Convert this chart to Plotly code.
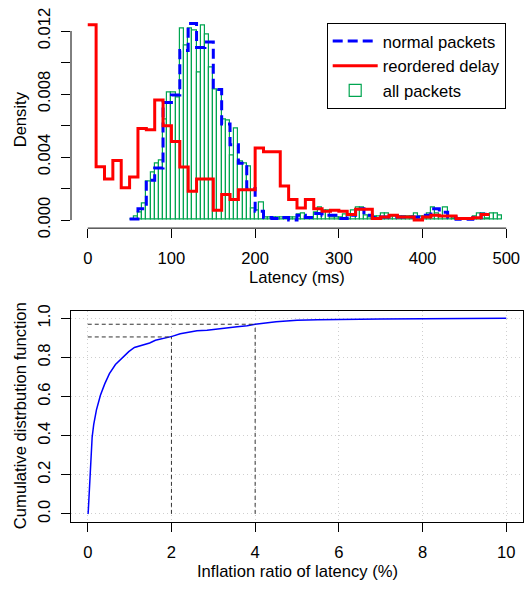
import plotly.graph_objects as go

W, H = 524, 593

# ---------------- Top panel data (density histograms) ----------------
all_start = 50          # first 5 ms bin start (ms)
all_width = 5
all_density = [
    0.0, 0.0002, 0.00045, 0.00107, 0.00247, 0.0030, 0.0036, 0.0038, 0.0064, 0.0081,
    0.0081, 0.0078, 0.01216, 0.0111, 0.01216, 0.01205, 0.00938, 0.01236, 0.01175, 0.0097,
    0.0083, 0.0082, 0.0064, 0.0063, 0.0041, 0.0058, 0.0037, 0.0036, 0.0034, 0.0007,
    0.0006, 0.0011, 0.00017, 0.00017, 0.00017, 0.00017, 0.00017, 0.00017, 0.00017, 0.00017,
    0.00037, 0.00040, 0.00017, 0.00017, 0.00046, 0.00082, 0.00062, 0.00062, 0.00017, 0.00017,
    0.00017, 0.00037, 0.00030, 0.00062, 0.00080, 0.00082, 0.00030, 0.00017, 0.0002, 0.0002,
    0.0004, 0.0004, 0.0002, 0.0002, 0.0002, 0.0002, 0.0002, 0.0002, 0.0004, 0.0002,
    0.0002, 0.0004, 0.00078, 0.0004, 0.0002, 0.0008, 0.0002, 0.0001, 0.0001, 0.0001,
    0.0001, 0.0001, 0.0002, 0.0004, 0.0004, 0.0001, 0.0004, 0.0004, 0.0003,
]

normal_start = 50       # 10 ms bins
normal_width = 10
normal_density = [
    0.00006, 0.00072, 0.00253, 0.0033, 0.00746, 0.00793, 0.01076, 0.01247, 0.01096, 0.0113,
    0.00828, 0.0061, 0.00478, 0.0036, 0.0020, 0.00056, 0.00017, 0.0001, 0.00017, 0.0,
    0.0003, 0.00017, 0.00041, 0.0003, 0.0003, 0.0001, 0.0003, 0.00072, 0.0003, 0.00017,
    0.0002, 0.0002, 0.0002, 0.0002, 0.0002, 0.0003, 0.00072, 0.0005, 0.0002, 0.00005,
    0.00005, 0.00015, 0.00037,
]

reord_start = 0         # 10 ms bins
reord_width = 10
reord_density = [
    0.0124, 0.00338, 0.00260, 0.00378, 0.00205, 0.00273, 0.00581, 0.00573, 0.00762, 0.00598,
    0.00499, 0.00336, 0.00183, 0.00260, 0.00260, 0.00062, 0.00163, 0.00130, 0.00192, 0.00192,
    0.00457, 0.00433, 0.00433, 0.00216, 0.00130, 0.00076, 0.00130, 0.00072, 0.00056, 0.00062,
    0.00056, 0.00035, 0.00068, 0.00068, 0.00010, 0.00020, 0.00030, 0.00020, 0.00020, 0.00000,
    0.00020, 0.00030, 0.00025, 0.00025, 0.00010, 0.00010, 0.00015, 0.00035,
]

top_xticks = [0, 100, 200, 300, 400, 500]
top_yticks = [0.0, 0.002, 0.004, 0.006, 0.008, 0.010, 0.012]
top_yticktext = ["0.000", "", "0.004", "", "0.008", "", "0.012"]

# ---------------- Bottom panel data (CDF) ----------------
cdf_x = [0.0, 0.01, 0.105, 0.143, 0.208, 0.303, 0.406, 0.518, 0.662, 0.821, 0.98, 1.115,
         1.30, 1.48, 1.617, 1.815, 2.015, 2.21, 2.41, 2.61, 2.85, 3.05, 3.25, 3.57, 3.81,
         4.0, 4.5, 5.0, 5.5, 6.0, 7.0, 8.0, 9.0, 10.0]
cdf_y = [0.0, 0.003, 0.392, 0.458, 0.532, 0.607, 0.665, 0.717, 0.764, 0.797, 0.830, 0.851,
         0.863, 0.874, 0.888, 0.896, 0.908, 0.921, 0.929, 0.937, 0.939, 0.944, 0.952, 0.957, 0.962,
         0.970, 0.983, 0.990, 0.993, 0.995, 0.997, 0.998, 0.999, 1.0]
ref_x = [2, 4]
ref_y = [0.905, 0.970]

bot_xticks = [0, 2, 4, 6, 8, 10]
bot_yticks = [0.0, 0.2, 0.4, 0.6, 0.8, 1.0]
bot_yticktext = ["0.0", "0.2", "0.4", "0.6", "0.8", "1.0"]

FONT = "Liberation Sans, Arial, sans-serif"
FS = 16.6
GREEN = "#00A550"


def px_x(p):
    return p / W


def px_y(p):
    return 1 - p / H


def steps(start, width, vals):
    xs = [start + i * width for i in range(len(vals))] + [start + len(vals) * width]
    ys = list(vals) + [vals[-1]]
    return xs, ys


fig = go.Figure()

# all packets: 5 ms histogram bars (outline only)
fig.add_trace(go.Bar(
    x=[all_start + (i + 0.5) * all_width for i in range(len(all_density))],
    y=all_density, width=all_width,
    marker=dict(color="white", line=dict(color=GREEN, width=1.2)),
    name="all packets", legendrank=3, xaxis="x", yaxis="y",
))

nx, ny = steps(normal_start, normal_width, normal_density)
fig.add_trace(go.Scatter(
    x=nx, y=ny, mode="lines", line=dict(color="#0000FF", width=3, dash="10px,5px", shape="hv"),
    name="normal packets", legendrank=1, xaxis="x", yaxis="y",
))

rx, ry = steps(reord_start, reord_width, reord_density)
fig.add_trace(go.Scatter(
    x=rx, y=ry, mode="lines", line=dict(color="#FF0000", width=3, shape="hv"),
    name="reordered delay", legendrank=2, xaxis="x", yaxis="y",
))

fig.add_trace(go.Scatter(
    x=cdf_x, y=cdf_y, mode="lines", line=dict(color="#0000FF", width=1.5),
    showlegend=False, xaxis="x2", yaxis="y2",
))

XDOM = [px_x(71), px_x(523)]
tickstyle = dict(ticks="outside", ticklen=9, tickwidth=1, tickcolor="black",
                 tickfont=dict(family=FONT, size=FS, color="black"), zeroline=False)

shapes = []
# detached R-style axes for top panel
shapes.append(dict(type="line", xref="x", yref="paper", x0=top_xticks[0], x1=top_xticks[-1],
                   y0=px_y(228.3), y1=px_y(228.3), line=dict(color="black", width=1)))
shapes.append(dict(type="line", xref="paper", yref="y", x0=px_x(71), x1=px_x(71),
                   y0=top_yticks[0], y1=top_yticks[-1], line=dict(color="black", width=1)))
# reference quantile lines in bottom panel
for qx, qy in zip(ref_x, ref_y):
    shapes.append(dict(type="line", xref="x2", yref="y2", x0=qx, x1=qx, y0=0, y1=qy,
                       line=dict(color="#333333", width=1, dash="4px,3px")))
    shapes.append(dict(type="line", xref="x2", yref="y2", x0=0, x1=qx, y0=qy, y1=qy,
                       line=dict(color="#333333", width=1, dash="4px,3px")))

annos = [
    dict(text="Latency (ms)", x=px_x(297), y=px_y(279)),
    dict(text="Density", x=px_x(20), y=px_y(116.5), textangle=-90),
    dict(text="Inflation ratio of latency (%)", x=px_x(297), y=px_y(581)),
    dict(text="Cumulative distrbution function", x=px_x(20), y=px_y(421.5), textangle=-90),
]
for a in annos:
    a.update(xref="paper", yref="paper", showarrow=False, xanchor="center", yanchor="middle",
             font=dict(family=FONT, size=FS, color="black"))

grid = dict(showgrid=True, gridcolor="#CFCFCF", griddash="1px,3px", gridwidth=1)

fig.update_layout(
    width=W, height=H, margin=dict(l=0, r=0, t=0, b=0),
    paper_bgcolor="white", plot_bgcolor="white",
    font=dict(family=FONT, size=FS, color="black"),
    bargap=0,
    xaxis=dict(domain=XDOM, range=[-20, 520], tickvals=top_xticks, anchor="y",
               showline=False, showgrid=False, ticklabelstandoff=6, **tickstyle),
    yaxis=dict(domain=[px_y(228.3), px_y(4.7)], range=[-0.000513, 0.013297],
               tickvals=top_yticks, ticktext=top_yticktext, tickangle=-90, anchor="x",
               showline=False, showgrid=False, ticklabelstandoff=4, **tickstyle),
    xaxis2=dict(domain=XDOM, range=[-0.4, 10.4], tickvals=bot_xticks, anchor="y2",
                showline=True, mirror=True, linecolor="black", linewidth=1,
                ticklabelstandoff=6, **grid, **tickstyle),
    yaxis2=dict(domain=[px_y(530), px_y(313)], range=[-0.04, 1.04], tickvals=bot_yticks,
                ticktext=bot_yticktext, tickangle=-90, anchor="x2",
                showline=True, mirror=True, linecolor="black", linewidth=1,
                ticklabelstandoff=4, **grid, **tickstyle),
    legend=dict(x=px_x(326.7), y=px_y(17.3), xanchor="left", yanchor="top",
                bordercolor="black", borderwidth=1, bgcolor="white",
                font=dict(family=FONT, size=FS, color="black"), itemwidth=45,
                tracegroupgap=0),
    shapes=shapes,
    annotations=annos,
)

fig.write_html("out.html")
